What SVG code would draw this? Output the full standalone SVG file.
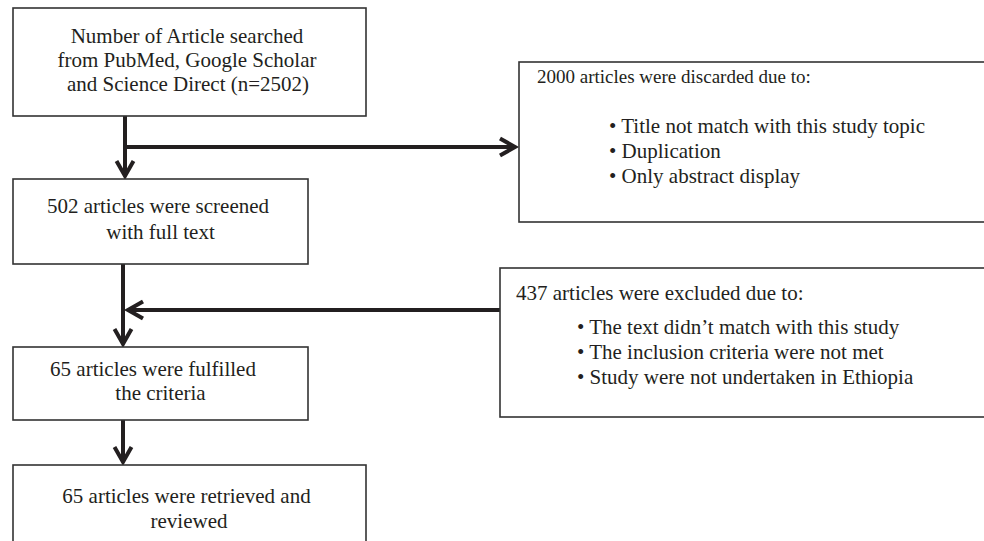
<svg xmlns="http://www.w3.org/2000/svg" width="984" height="541" viewBox="0 0 984 541">
<style>
.box{fill:#fff;stroke:#333;stroke-width:1.6}
.t{font-family:"Liberation Serif","Times New Roman",serif;font-size:21px;fill:#231f20}
.c{text-anchor:middle}
.ln{fill:none;stroke:#231f20;stroke-width:4}
</style>
<defs>
<marker id="arr" markerUnits="userSpaceOnUse" markerWidth="24" markerHeight="24" viewBox="0 0 24 24" refX="18" refY="12" orient="auto" overflow="visible">
<path d="M3,3.5 L18,12 L3,20.5" fill="none" stroke="#231f20" stroke-width="4"/>
</marker>
</defs>
<rect width="984" height="541" fill="#fff"/>
<g id="connectors">
<path class="ln" d="M125,116 V176" marker-end="url(#arr)"/>
<path class="ln" d="M123,147 H515" marker-end="url(#arr)"/>
<path class="ln" d="M123,264 V344" marker-end="url(#arr)"/>
<path class="ln" d="M500,310 H128" marker-end="url(#arr)"/>
<path class="ln" d="M123,420 V462" marker-end="url(#arr)"/>
</g>
<g id="n1">
<rect class="box" x="13" y="8" width="353" height="108"/>
<text class="t c" x="187" y="43">Number of Article searched</text>
<text class="t c" x="187" y="67">from PubMed, Google Scholar</text>
<text class="t c" x="188" y="91">and Science Direct (n=2502)</text>
</g>
<g id="n2">
<rect class="box" x="13" y="179" width="295" height="85"/>
<text class="t c" x="158" y="213">502 articles were screened</text>
<text class="t c" x="160.5" y="239">with full text</text>
</g>
<g id="n3">
<rect class="box" x="13" y="347" width="295" height="73"/>
<text class="t c" x="153" y="376">65 articles were fulfilled</text>
<text class="t c" x="160.5" y="400">the criteria</text>
</g>
<g id="n4">
<rect class="box" x="13" y="465" width="353" height="100"/>
<text class="t c" x="186.5" y="503">65 articles were retrieved and</text>
<text class="t c" x="189" y="528">reviewed</text>
</g>
<g id="excl1">
<rect class="box" x="519" y="62" width="480" height="160"/>
<text class="t" x="537" y="83" style="font-size:19px">2000 articles were discarded due to:</text>
<text class="t" x="609" y="133">• Title not match with this study topic</text>
<text class="t" x="609" y="158">• Duplication</text>
<text class="t" x="609" y="183">• Only abstract display</text>
</g>
<g id="excl2">
<rect class="box" x="500" y="268" width="500" height="149"/>
<text class="t" x="516" y="300">437 articles were excluded due to:</text>
<text class="t" x="577" y="334">• The text didn’t match with this study</text>
<text class="t" x="577" y="359">• The inclusion criteria were not met</text>
<text class="t" x="577" y="384">• Study were not undertaken in Ethiopia</text>
</g>
</svg>
